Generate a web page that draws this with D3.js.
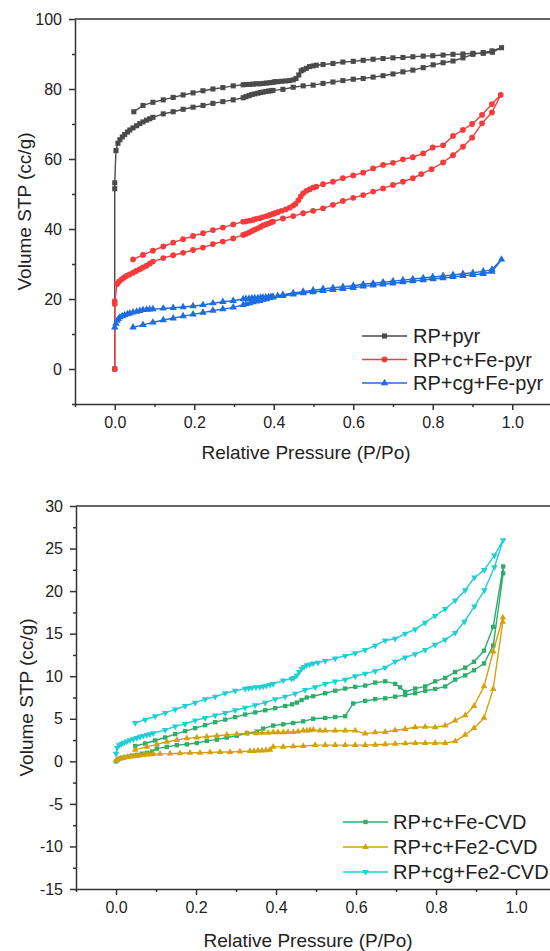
<!DOCTYPE html>
<html>
<head>
<meta charset="utf-8">
<script src="https://cdn.jsdelivr.net/npm/d3@7"></script>
<style>
  body { margin: 0; background: #fff; }
  svg { display: block; }
  text { font-family: "Liberation Sans", Arial, sans-serif; fill: #222; }
</style>
</head>
<body>
<div id="chart"></div>
<script>
// ---------- data (P/Po, volume STP cc/g), adsorption then desorption ----------
const pyrP = [0,0,0,0.003,0.008,0.013,0.019,0.025,0.032,0.038,0.046,0.055,0.063,0.071,0.08,0.088,0.096,
  0.122,0.147,0.172,0.197,0.222,0.247,0.272,0.298,
  0.323,0.33,0.338,0.345,0.352,0.36,0.367,0.373,0.38,0.387,0.393,0.398,
  0.423,0.449,0.474,0.499,0.524,0.549,0.574,0.6,0.625,0.65,0.675,0.7,0.725,0.75,0.776,0.801,0.826,0.851,0.876,0.901,0.927,0.949,0.973,
  0.95,0.927,0.901,0.876,0.851,0.826,0.8,0.776,0.75,0.725,0.7,0.675,0.65,0.625,0.6,0.574,0.549,0.524,
  0.507,0.499,0.49,0.482,0.474,0.469,0.463,0.456,0.449,0.44,0.43,0.42,0.41,0.403,
  0.398,0.39,0.382,0.373,0.365,0.356,0.348,0.34,0.331,0.323,
  0.298,0.272,0.247,0.222,0.197,0.172,0.147,0.122,0.096,0.071,0.048];
const pyrV = [0,51.5,53.2,62.4,64.5,65.5,66.3,67,67.7,68.3,68.9,69.5,70.1,70.6,71.1,71.5,71.9,
  72.9,73.5,74.2,74.8,75.3,75.9,76.4,76.9,
  77.5,77.8,78.1,78.4,78.6,78.8,79,79.1,79.3,79.4,79.5,79.6,
  79.9,80.5,80.9,81.1,81.6,82,82.4,82.8,83,83.4,83.8,84.3,84.9,85.4,86.1,86.9,87.5,88,88.9,89.9,90.4,90.9,91.8,
  90.5,90.2,90.2,90,89.9,89.7,89.5,89.4,89.2,89,88.9,88.7,88.5,88.2,87.9,87.7,87.3,87,
  86.8,86.6,86.4,85.9,85.5,85.2,84,83,82.6,82.4,82.3,82.2,82.1,82.1,
  81.9,81.8,81.7,81.6,81.5,81.5,81.4,81.3,81.3,81.2,
  80.9,80.4,80,79.5,78.9,78.3,77.6,76.9,76.2,75.3,73.5];

const cFePyrP = [0,0,0,0.006,0.011,0.017,0.023,0.029,0.037,0.046,0.054,0.063,0.071,0.08,0.088,0.096,
  0.122,0.147,0.172,0.197,0.222,0.247,0.272,0.298,
  0.323,0.33,0.338,0.345,0.352,0.36,0.367,0.373,0.38,0.387,0.393,0.398,
  0.423,0.449,0.474,0.499,0.524,0.549,0.574,0.6,0.625,0.65,0.675,0.7,0.725,0.75,0.771,0.797,0.826,0.851,0.876,0.899,0.924,0.949,0.971,
  0.949,0.924,0.899,0.876,0.851,0.826,0.8,0.776,0.75,0.725,0.7,0.675,0.65,0.625,0.6,0.574,0.549,0.524,
  0.507,0.499,0.49,0.482,0.474,0.468,0.462,0.455,0.449,0.44,0.43,0.42,0.41,0.403,
  0.398,0.39,0.382,0.373,0.365,0.356,0.348,0.34,0.331,0.323,
  0.298,0.272,0.247,0.222,0.197,0.172,0.147,0.122,0.096,0.071,0.046];
const cFePyrV = [0,18.6,19.4,24.3,25,25.6,26.1,26.6,27,27.5,28,28.5,29,29.5,30.1,30.7,
  31.7,32.5,33.2,34,34.7,35.7,36.4,37.3,
  38.3,38.6,39,39.4,39.8,40.2,40.6,41,41.3,41.6,41.9,42.1,
  43,43.7,44.5,45.2,45.9,46.9,48,48.9,49.7,50.7,51.6,52.6,53.5,54.5,55.7,57.1,59,61.1,63.5,66.1,70.2,73.3,78.3,
  75.7,72.6,70,68.3,66.6,63.9,63.3,61.6,60.5,59.9,58.9,58.3,57.3,56.1,55.3,54.5,53.5,52.8,
  52.1,51.8,51.3,50.9,50.2,49.3,48.2,47.2,46.7,46.1,45.6,45.2,44.8,44.5,
  44.3,44,43.7,43.4,43.1,42.9,42.6,42.4,42.2,42.1,
  41.3,40.4,39.7,38.8,38,37.1,36.1,35,33.8,32.6,31.3];

const cgFePyrP = [0,0.003,0.006,0.009,0.013,0.019,0.025,0.032,0.038,0.046,0.055,0.063,0.071,0.08,0.088,0.096,
  0.122,0.147,0.172,0.197,0.222,0.247,0.272,0.298,
  0.323,0.33,0.338,0.345,0.352,0.36,0.367,0.373,0.38,0.387,0.393,0.398,
  0.423,0.449,0.474,0.499,0.524,0.549,0.574,0.6,0.625,0.65,0.675,0.7,0.725,0.75,0.776,0.801,0.826,0.851,0.876,0.901,0.927,0.949,0.973,
  0.949,0.927,0.901,0.876,0.851,0.826,0.8,0.776,0.75,0.725,0.7,0.675,0.65,0.625,0.6,0.574,0.549,0.524,0.499,0.474,0.449,0.423,
  0.41,0.398,0.39,0.382,0.373,0.365,0.356,0.348,0.34,0.331,0.323,
  0.298,0.272,0.247,0.222,0.197,0.172,0.147,0.122,0.096,0.071,0.046];
const cgFePyrV = [11.9,13,13.8,14.3,14.8,15.1,15.4,15.7,15.9,16.2,16.4,16.6,16.9,17,17.05,17.1,
  17.3,17.5,17.7,18,18.3,18.8,19.2,19.5,
  20,20.05,20.1,20.2,20.25,20.3,20.4,20.45,20.5,20.55,20.6,20.6,
  20.9,21.3,21.7,22,22.3,22.6,22.9,23.2,23.6,23.9,24.2,24.5,24.8,25.1,25.4,25.7,26,26.3,26.6,26.9,27.2,27.8,31.3,
  28.4,27.9,27.5,27.2,26.9,26.6,26.3,26,25.7,25.4,25.1,24.8,24.5,24.2,23.8,23.5,23.2,22.9,22.5,22.1,21.7,21.2,
  20.9,20.5,20.3,20,19.8,19.5,19.3,19.1,18.8,18.6,18.3,
  17.6,17.1,16.7,16.1,15.6,15.1,14.5,14,13.3,12.6,11.9];

const cFeCvdP = [0,0.005,0.012,0.02,0.03,0.04,0.052,0.065,0.077,0.09,
  0.102,0.127,0.152,0.177,0.202,0.227,0.252,0.277,0.302,0.327,0.352,0.368,0.393,0.418,0.443,0.468,
  0.493,0.523,0.548,0.573,0.593,0.623,0.648,0.673,0.698,0.723,
  0.748,0.773,0.798,0.823,0.848,0.873,0.895,0.92,0.943,0.968,
  0.968,0.943,0.92,0.895,0.873,0.848,0.823,0.798,0.773,0.748,0.723,
  0.71,0.698,0.673,0.648,0.623,0.598,0.573,0.548,0.523,0.493,0.477,0.464,
  0.452,0.44,0.423,0.398,0.373,0.348,0.323,0.298,0.273,0.248,0.223,0.198,0.173,0.148,0.123,0.098,0.073,0.048];
const cFeCvdV = [0,0.2,0.35,0.45,0.55,0.65,0.75,0.9,1,1.15,
  1.5,1.7,1.9,2,2.15,2.4,2.55,2.8,3,3.3,3.5,3.85,4.2,4.35,4.5,4.7,
  5,5.1,5.2,5.3,6.8,7.1,7.3,7.4,7.6,7.8,
  8,8.3,8.5,8.8,9.6,10.1,10.7,11.5,13.6,22.1,
  22.9,15.8,13,11.7,11,10.5,9.8,9.4,8.8,8.55,8.15,
  8.7,9.1,9.4,9.25,8.9,8.75,8.55,8.3,8,7.65,7.5,7.2,
  6.9,6.7,6.5,6.25,6,5.75,5.5,5.2,4.9,4.6,4.25,3.9,3.55,3.2,2.8,2.45,2.1,1.8];

const cFe2CvdP = [0,0.005,0.012,0.02,0.028,0.036,0.043,0.052,0.06,0.068,0.077,0.085,0.093,
  0.11,0.135,0.16,0.185,0.21,0.235,0.26,0.285,0.31,0.335,
  0.345,0.355,0.365,0.375,0.385,0.393,
  0.418,0.443,0.468,0.498,0.523,0.548,0.573,0.598,0.623,0.648,0.673,0.698,0.723,0.748,0.773,0.798,0.823,0.848,0.873,0.895,0.92,0.943,0.967,
  0.967,0.943,0.92,0.895,0.873,0.848,0.823,0.798,0.773,0.748,0.723,0.698,0.673,0.648,0.623,0.598,0.573,0.548,0.523,
  0.51,0.493,0.485,0.477,0.468,0.455,0.443,0.43,0.418,0.405,0.393,0.38,0.365,0.35,
  0.327,0.302,0.277,0.252,0.227,0.202,0.177,0.152,0.127,0.102,0.077,0.048];
const cFe2CvdV = [0.1,0.25,0.35,0.45,0.5,0.55,0.6,0.65,0.7,0.75,0.8,0.82,0.85,
  0.88,0.9,0.95,1,1,1.05,1.1,1.1,1.15,1.2,
  1.2,1.25,1.25,1.3,1.35,1.7,
  1.7,1.75,1.8,1.9,1.9,1.9,1.9,1.9,1.9,1.95,2,2.05,2.1,2.15,2.15,2.15,2.15,2.35,3.1,3.9,5.1,8.5,16.4,
  16.9,12.9,8.8,6.5,5.4,4.8,4.2,4,4.05,4,3.8,3.65,3.45,3.4,3.25,3.6,3.6,3.6,3.6,
  3.6,3.7,3.65,3.6,3.6,3.5,3.45,3.45,3.4,3.4,3.4,3.35,3.35,3.3,
  3.3,3.2,3.1,3,2.9,2.8,2.7,2.5,2.3,2,1.7,1.35];

const cgFe2CvdP = [0,0.003,0.008,0.014,0.02,0.027,0.035,0.043,0.052,0.06,0.068,0.077,0.085,0.093,
  0.123,0.148,0.173,0.198,0.223,0.248,0.273,0.298,0.323,0.348,0.373,0.398,
  0.423,0.448,0.473,0.498,0.523,0.548,0.573,0.598,0.623,0.648,0.673,0.698,
  0.723,0.748,0.773,0.798,0.823,0.848,0.871,0.896,0.921,0.946,0.968,
  0.946,0.921,0.896,0.873,0.848,0.823,0.798,0.773,0.748,0.723,0.698,0.673,0.648,0.623,0.598,0.573,0.548,0.523,
  0.505,0.493,0.485,0.477,0.47,0.464,0.458,0.452,0.445,0.439,
  0.418,0.393,0.385,0.376,0.368,0.36,0.35,0.34,0.332,0.323,
  0.298,0.273,0.248,0.223,0.198,0.173,0.148,0.123,0.098,0.073,0.048];
const cgFe2CvdV = [0.9,1.6,1.9,2.05,2.2,2.35,2.5,2.6,2.75,2.9,3,3.1,3.2,3.3,
  3.7,4.1,4.4,4.8,5.1,5.4,5.7,6,6.3,6.6,6.9,7.3,
  7.6,7.95,8.4,8.7,9.1,9.4,9.6,10,10.3,10.6,11,11.7,
  12.2,12.6,13.1,13.7,14.3,15.1,16.4,18.2,20.1,22.8,26,
  24.2,22.5,21.6,20.1,18.9,17.9,17.1,16.3,15.5,15,14.4,14.2,13.6,13.1,12.7,12.4,12.1,11.8,
  11.6,11.5,11.4,11.3,11.1,10.9,10.5,10.1,9.8,9.7,
  9.5,9.1,9,8.9,8.8,8.75,8.7,8.65,8.6,8.55,
  8.3,8,7.6,7.3,6.9,6.5,6.1,5.7,5.3,4.9,4.5];

// ticks
const xMajor = [0, 0.2, 0.4, 0.6, 0.8, 1.0];
const xMinor = [-0.1, 0.1, 0.3, 0.5, 0.7, 0.9, 1.1];
const topYMajor = [0, 20, 40, 60, 80, 100];
const topYMinor = [-10, 10, 30, 50, 70, 90];
const botYMajor = [-15, -10, -5, 0, 5, 10, 15, 20, 25, 30];
const botYMinor = [-12.5, -7.5, -2.5, 2.5, 7.5, 12.5, 17.5, 22.5, 27.5];

const topNames = ["RP+pyr", "RP+c+Fe-pyr", "RP+cg+Fe-pyr"];
const botNames = ["RP+c+Fe-CVD", "RP+c+Fe2-CVD", "RP+cg+Fe2-CVD"];

const width = 550, height = 951;
const svg = d3.select('#chart').append('svg')
    .attr('width', width)
    .attr('height', height);

const triDown = {
    draw(ctx, size) {
        const s = Math.sqrt(size * 4 / Math.sqrt(3));
        const h = s * Math.sqrt(3) / 2;
        ctx.moveTo(0, h * 2 / 3);
        ctx.lineTo(s / 2, -h / 3);
        ctx.lineTo(-s / 2, -h / 3);
        ctx.closePath();
    }
};
const triUp = {
    draw(ctx, size) {
        const s = Math.sqrt(size * 4 / Math.sqrt(3));
        const h = s * Math.sqrt(3) / 2;
        ctx.moveTo(0, -h * 2 / 3);
        ctx.lineTo(s / 2, h / 3);
        ctx.lineTo(-s / 2, h / 3);
        ctx.closePath();
    }
};

function drawPanel(cfg) {
    const g = svg.append('g');
    const x = d3.scaleLinear().domain([-0.1, 1.1]).range(cfg.xRange);
    const y = d3.scaleLinear().domain(cfg.yDomain).range(cfg.yRange);
    const y0 = cfg.yRange[0], yTop = cfg.yRange[1];

    // series
    cfg.series.forEach(s => {
        const idx = d3.range(s.P.length);
        g.append('path')
            .datum(idx)
            .attr('d', d3.line().x(i => x(s.P[i])).y(i => y(s.V[i])))
            .attr('fill', 'none')
            .attr('stroke', s.color)
            .attr('stroke-width', 1.4)
            .attr('stroke-linejoin', 'round');
        g.append('g').selectAll('path')
            .data(idx)
            .join('path')
            .attr('transform', i => `translate(${x(s.P[i])},${y(s.V[i])})`)
            .attr('d', d3.symbol().type(s.symbol).size(s.size))
            .attr('fill', s.color);
    });

    // axes
    const xAxis = d3.axisBottom(x).tickValues(xMajor).tickFormat(d3.format('.1f'))
        .tickSize(6).tickPadding(7).tickSizeOuter(0);
    const xAxisG = g.append('g').attr('transform', `translate(0,${y0})`).call(xAxis);
    g.append('g').attr('transform', `translate(0,${y0})`)
        .call(d3.axisBottom(x).tickValues(xMinor).tickFormat('').tickSize(3).tickSizeOuter(0))
        .select('.domain').remove();

    const yAxis = d3.axisLeft(y).tickValues(cfg.yMajor).tickFormat(d => String(d))
        .tickSize(6).tickPadding(7).tickSizeOuter(0);
    const yAxisG = g.append('g').attr('transform', `translate(${cfg.xRange[0]},0)`).call(yAxis);
    g.append('g').attr('transform', `translate(${cfg.xRange[0]},0)`)
        .call(d3.axisLeft(y).tickValues(cfg.yMinor).tickFormat('').tickSize(3).tickSizeOuter(0))
        .select('.domain').remove();

    g.selectAll('.domain, .tick line').attr('stroke', '#333').attr('stroke-width', 1.5);
    [xAxisG, yAxisG].forEach(a => a.selectAll('text')
        .style('font-size', '16px').style('font-family', '"Liberation Sans", Arial, sans-serif').attr('fill', '#222'));

    // top frame
    g.append('line')
        .attr('x1', cfg.xRange[0]).attr('x2', cfg.xRange[1])
        .attr('y1', yTop).attr('y2', yTop)
        .attr('stroke', '#333').attr('stroke-width', 1.5);

    // titles
    g.append('text')
        .attr('x', cfg.xTitleX).attr('y', cfg.xTitleY)
        .attr('text-anchor', 'middle')
        .style('font-size', '19px')
        .text('Relative Pressure (P/Po)');
    g.append('text')
        .attr('transform', `translate(${cfg.yTitleX},${(y0 + yTop) / 2}) rotate(-90)`)
        .attr('text-anchor', 'middle')
        .style('font-size', '19px')
        .text('Volume STP (cc/g)');

    // legend
    cfg.series.forEach((s, k) => {
        const ly = cfg.legend.y + k * cfg.legend.step;
        g.append('line')
            .attr('x1', cfg.legend.x1).attr('x2', cfg.legend.x2)
            .attr('y1', ly).attr('y2', ly)
            .attr('stroke', s.color).attr('stroke-width', 1.4);
        g.append('path')
            .attr('transform', `translate(${(cfg.legend.x1 + cfg.legend.x2) / 2},${ly})`)
            .attr('d', d3.symbol().type(s.symbol).size(s.size))
            .attr('fill', s.color);
        g.append('text')
            .attr('x', cfg.legend.tx).attr('y', ly)
            .attr('dy', '0.36em')
            .style('font-size', '20px')
            .text(s.name);
    });
}

drawPanel({
    xRange: [75, 552],
    yDomain: [-10, 100],
    yRange: [404, 19],
    yMajor: topYMajor,
    yMinor: topYMinor,
    xTitleX: 306,
    xTitleY: 459,
    yTitleX: 31,
    legend: { x1: 362, x2: 407, tx: 413, y: 336, step: 23.5 },
    series: [
        { name: topNames[0], P: pyrP, V: pyrV, color: '#4a4a4a', symbol: d3.symbolSquare, size: 26 },
        { name: topNames[1], P: cFePyrP, V: cFePyrV, color: '#f53b3b', symbol: d3.symbolCircle, size: 26 },
        { name: topNames[2], P: cgFePyrP, V: cgFePyrV, color: '#1d6ddf', symbol: triUp, size: 24 }
    ]
});

drawPanel({
    xRange: [76, 556],
    yDomain: [-15, 30],
    yRange: [889, 506],
    yMajor: botYMajor,
    yMinor: botYMinor,
    xTitleX: 308,
    xTitleY: 947,
    yTitleX: 33,
    legend: { x1: 343, x2: 388, tx: 393, y: 822, step: 25 },
    series: [
        { name: botNames[0], P: cFeCvdP, V: cFeCvdV, color: '#2fad6b', symbol: d3.symbolSquare, size: 19 },
        { name: botNames[1], P: cFe2CvdP, V: cFe2CvdV, color: '#d6a00c', symbol: triUp, size: 19 },
        { name: botNames[2], P: cgFe2CvdP, V: cgFe2CvdV, color: '#1fcfd2', symbol: triDown, size: 19 }
    ]
});
</script>
</body>
</html>
